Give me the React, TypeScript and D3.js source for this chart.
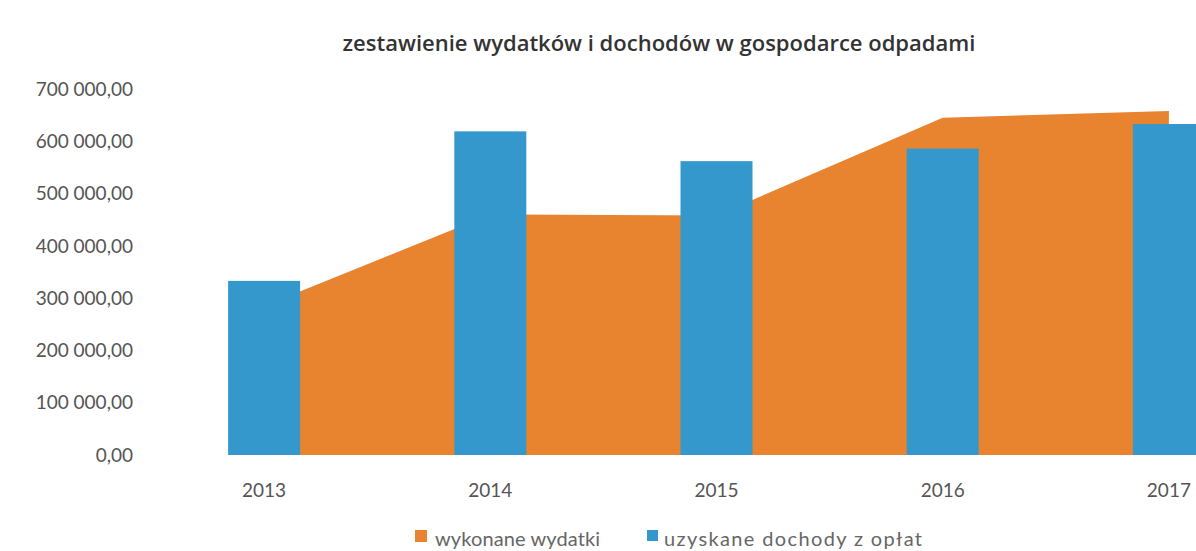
import React from "react";
import * as d3 from "d3";

const years = ["2013", "2014", "2015", "2016", "2017"];
const wydatki = [285000, 460000, 458000, 645000, 658000];
const dochody = [333000, 619000, 562000, 586000, 633000];
const yTicks = [0, 100000, 200000, 300000, 400000, 500000, 600000, 700000];
const title = "zestawienie wydatków i dochodów w gospodarce odpadami";
const legendLabels = ["wykonane wydatki", "uzyskane dochody z opłat"];

const W = 1196;
const H = 551;
const ORANGE = "#E8832F";
const BLUE = "#3598CC";
const FONT = "Lato, 'Open Sans', sans-serif";

const fmt = (v: number) => {
  const s = d3.format(",.2f")(v);
  return s.replace(/,/g, " ").replace(/\.(\d\d)$/, ",$1");
};

export default function App() {
  const x = d3.scaleBand<string>().domain(years).range([151, 1282]).paddingInner(0).paddingOuter(0);
  const y = d3.scaleLinear().domain([0, 700000]).range([455, 89]);
  const bw = x.bandwidth();
  const barW = 72;
  const cx = (d: string) => (x(d) as number) + bw / 2;

  const area = d3
    .area<number>()
    .x((_, i) => cx(years[i]))
    .y0(y(0))
    .y1((d) => y(d));

  return (
    <svg width={W} height={H} style={{ position: "absolute", left: 0, top: 0, background: "#fff" }}>
      <text x={659} y={51} textAnchor="middle" fontFamily="'Open Sans', sans-serif" fontWeight={600} fontSize={22} fill="#333">
        {title}
      </text>
      {yTicks.map((t) => (
        <text key={t} x={133} y={y(t)} dy="0.35em" textAnchor="end" fontFamily={FONT} fontSize={19} fill="#555">
          {fmt(t)}
        </text>
      ))}
      <path d={area(wydatki) as string} fill={ORANGE} />
      {dochody.map((v, i) => (
        <rect key={i} x={cx(years[i]) - barW / 2} y={y(v)} width={barW} height={y(0) - y(v)} fill={BLUE} />
      ))}
      {years.map((yr) => (
        <text key={yr} x={cx(yr)} y={497} textAnchor="middle" fontFamily={FONT} fontSize={19} fill="#555">
          {yr}
        </text>
      ))}
      <g>
        <rect x={415} y={530} width={12} height={12} fill={ORANGE} />
        <text x={435} y={546} fontFamily={FONT} fontSize={20} fill="#666" textLength={165} lengthAdjust="spacing">
          {legendLabels[0]}
        </text>
        <rect x={647} y={530} width={11} height={11} fill={BLUE} />
        <text x={664} y={546} fontFamily={FONT} fontSize={20} fill="#666" textLength={258} lengthAdjust="spacing">
          {legendLabels[1]}
        </text>
      </g>
    </svg>
  );
}
